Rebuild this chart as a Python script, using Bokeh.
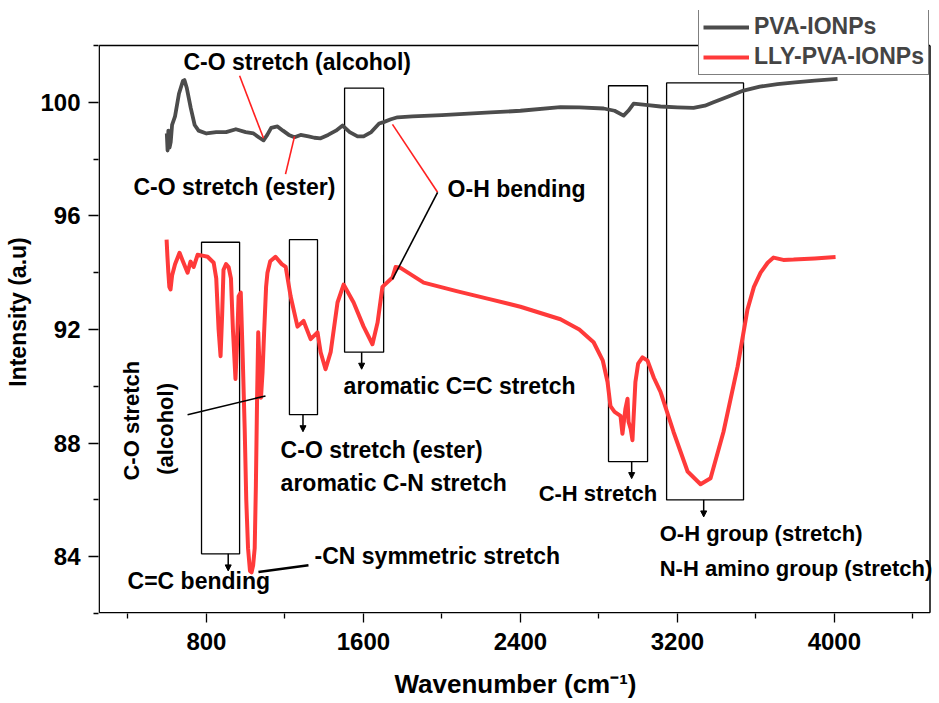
from bokeh.plotting import figure
from bokeh.models import Legend, LegendItem, Range1d, Arrow, NormalHead, FixedTicker
from bokeh.core.properties import value
from bokeh.embed import file_html
from bokeh.resources import INLINE
import numpy as np

# ---------------- data ----------------
pva_x = [598, 602, 606, 612, 618, 625, 640, 660, 680, 688, 700, 720, 740, 760, 800, 850, 900, 950,
         1000, 1040, 1070, 1091, 1110, 1130, 1162, 1190, 1220, 1249, 1280, 1320, 1350, 1382, 1420,
         1460, 1494, 1530, 1570, 1601, 1640, 1680, 1703, 1740, 1774, 1850, 2000, 2248, 2400, 2604,
         2700, 2824, 2880, 2926, 2950, 2977, 3050, 3114, 3200, 3282, 3340, 3384, 3460, 3537, 3620,
         3710, 3800, 3900, 4016]
pva_y = [98.9, 98.3, 99.0, 98.4, 98.6, 99.2, 99.5, 100.3, 100.75, 100.78, 100.5, 99.8, 99.2, 99.0,
         98.9, 98.95, 98.95, 99.05, 98.95, 98.9, 98.75, 98.66, 98.85, 99.1, 99.15, 99.0, 98.85,
         98.77, 98.85, 98.8, 98.75, 98.73, 98.85, 99.0, 99.18, 98.95, 98.8, 98.8, 98.95, 99.25,
         99.3, 99.4, 99.47, 99.5, 99.55, 99.64, 99.7, 99.83, 99.82, 99.78, 99.7, 99.53, 99.7,
         99.95, 99.9, 99.85, 99.82, 99.8, 99.88, 100.0, 100.2, 100.41, 100.55, 100.64, 100.7,
         100.76, 100.82]

lly_x = [597, 601, 606, 611, 617, 625, 640, 663, 680, 704, 719, 735, 755, 780, 806, 837, 850, 862,
         872, 880, 887, 900, 913, 925, 935, 948, 956, 964, 975, 985, 995, 1003, 1012, 1022, 1030,
         1038, 1046, 1052, 1058, 1064, 1070, 1078, 1086, 1094, 1104, 1111, 1125, 1152, 1184, 1204,
         1229, 1264, 1295, 1331, 1366, 1382, 1407, 1433, 1468, 1499, 1550, 1601, 1646, 1672, 1697,
         1748, 1764, 1789, 1907, 2080, 2248, 2400, 2604, 2700, 2773, 2820, 2844, 2859, 2880, 2910,
         2920, 2935, 2946, 2951, 2962, 2971, 2986, 3000, 3022, 3048, 3080, 3114, 3180, 3252, 3318,
         3369, 3435, 3507, 3557, 3590, 3624, 3660, 3690, 3740, 3792, 3900, 4006]
lly_y = [95.16, 94.6, 94.0, 93.5, 93.41, 93.9, 94.3, 94.7, 94.4, 94.0, 94.39, 94.2, 94.63, 94.6,
         94.56, 94.35, 93.8, 92.0, 91.06, 92.5, 94.1, 94.3, 94.2, 93.8, 92.0, 90.26, 91.5, 93.17,
         93.3, 91.0, 88.5, 86.0, 84.3, 83.5, 83.45, 83.7, 84.3, 86.5, 89.5, 91.9, 90.8, 89.6, 90.5,
         91.9, 93.5, 94.0, 94.4, 94.56, 94.3, 94.2, 93.17, 92.1, 92.3, 91.66, 91.9, 91.2, 90.6,
         91.2, 92.95, 93.58, 92.95, 92.1, 91.48, 92.24, 93.5, 93.83, 94.2, 94.17, 93.65, 93.34,
         93.06, 92.8, 92.36, 92.0, 91.55, 90.9, 90.15, 89.3, 89.1, 88.96, 88.33, 89.2, 89.56,
         88.75, 88.5, 88.1, 90.15, 90.8, 91.02, 90.9, 90.3, 89.8, 88.4, 87.0, 86.55, 86.76, 88.4,
         90.7, 92.7, 93.5, 94.0, 94.35, 94.53, 94.45, 94.46, 94.5, 94.55]

series_names = ["PVA-IONPs", "LLY-PVA-IONPs"]

# boxes around band regions (wavenumber / intensity units)
box_left = [775, 1223, 1504, 2849, 3145]
box_right = [969, 1366, 1703, 3048, 3537]
box_bottom = [84.1, 89.0, 91.2, 87.35, 86.0]
box_top = [95.07, 95.16, 100.5, 100.58, 100.68]
arrow_x = [911, 1292, 1591, 2967, 3334]

# band assignment labels
lab_text = ["C-O stretch (alcohol)", "C-O stretch (ester)", "O-H bending", "aromatic C=C stretch",
            "C-O stretch (ester)", "aromatic C-N stretch", "C=C bending", "-CN symmetric stretch"]
lab_x = [683, 428, 2029, 1499, 1178, 1178, 398, 1351]
lab_y = [101.4, 97.0, 96.95, 90.0, 87.74, 86.6, 83.16, 84.04]

lab2_text = ["C-H stretch", "O-H group (stretch)", "N-H amino group (stretch)"]
lab2_x = [2493, 3110, 3110]
lab2_y = [86.22, 84.8, 83.6]

rot_text = ["C-O stretch", "(alcohol)"]
rot_x = [418, 590]
rot_y = [88.79, 88.5]

# callout lines
red_x0 = [969, 1249, 1748]
red_y0 = [100.93, 98.8, 99.22]
red_x1 = [1091, 1203, 1978]
red_y1 = [98.73, 97.47, 96.83]
blk_x0 = [1978, 704]
blk_y0 = [96.83, 89.0]
blk_x1 = [1748, 1101]
blk_y1 = [93.76, 89.66]
cn_x0, cn_y0, cn_x1, cn_y1 = [1065], [83.46], [1320], [83.7]

x_ticks = [800, 1600, 2400, 3200, 4000]
x_minor = [400, 1200, 2000, 2800, 3600, 4400]
y_ticks = [84, 88, 92, 96, 100]
y_minor = [82, 86, 90, 94, 98, 102]

# axes box limits (data units)
x_lo, x_hi = 250, 4500
y_lo, y_hi = 82, 102

# ---------------- plot ----------------
FONT = "Liberation Sans"
GRAY = "#4c4c4c"
RED = "#ff3a3a"

Y_END = 103.23
px_per_x = 834 / (x_hi - x_lo)
px_per_y = 602.7 / (Y_END - y_lo)

p = figure(width=939, height=703, output_backend="svg", toolbar_location=None,
           x_range=Range1d(x_lo, x_hi), y_range=Range1d(y_lo, Y_END),
           min_border_left=98, min_border_right=7, min_border_top=10, min_border_bottom=90)
p.grid.visible = False
p.outline_line_color = None
p.background_fill_color = "white"
p.border_fill_color = "white"

for ax, ticks, minor in ((p.xaxis[0], x_ticks, x_minor), (p.yaxis[0], y_ticks, y_minor)):
    ax.ticker = FixedTicker(ticks=ticks, minor_ticks=minor)
    ax.major_label_text_font = FONT
    ax.major_label_text_font_style = "bold"
    ax.major_label_text_font_size = "24px"
    ax.major_label_text_color = "black"
    ax.axis_label_text_font = FONT
    ax.axis_label_text_font_style = "bold"
    ax.axis_label_text_color = "black"
    ax.axis_line_color = None
    ax.major_tick_line_color = "black"
    ax.minor_tick_line_color = "black"
    ax.major_tick_line_width = 1.3
    ax.minor_tick_line_width = 1.3
    ax.major_tick_in = 0
    ax.minor_tick_in = 0

p.xaxis.major_tick_out = 9
p.xaxis.minor_tick_out = 5
p.yaxis.major_tick_out = 10
p.yaxis.minor_tick_out = 5
p.xaxis.major_label_standoff = 10
p.yaxis.major_label_standoff = 8
p.xaxis.axis_label = "Wavenumber (cm\u207b\u00b9)"
p.yaxis.axis_label = "Intensity (a.u)"
p.xaxis.axis_label_text_font_size = "26px"
p.yaxis.axis_label_text_font_size = "23px"
p.xaxis.axis_label_standoff = 16
p.xaxis.axis_label_text_line_height = 1.0
p.yaxis.axis_label_standoff = 6

# axes box (drawn as lines so the legend may overlap its top edge)
xl = x_lo + 0.7 / px_per_x
xr = x_hi - 2.5 / px_per_x
yb = y_lo + 0.7 / px_per_y
p.segment(x0=[xl, xl, xl, xr], y0=[yb, y_hi, yb, yb],
          x1=[xl, xr, xr, xr], y1=[y_hi, y_hi, yb, y_hi],
          line_color="black", line_width=1.5)

# boxes
p.quad(left=box_left, right=box_right, bottom=box_bottom, top=box_top,
       fill_alpha=0, line_color="black", line_width=1.3)

# curves
r_pva = p.line(pva_x, pva_y, line_color=GRAY, line_width=3.8, line_join="round")
r_lly = p.line(lly_x, lly_y, line_color=RED, line_width=4, line_join="round")

# arrows below boxes
for ax_, ybot in zip(arrow_x, box_bottom):
    p.add_layout(Arrow(x_start=ax_, y_start=ybot, x_end=ax_, y_end=ybot - 0.6,
                       line_color="black", line_width=1.5,
                       end=NormalHead(size=6, fill_color="black", line_color="black")))

# callout lines
p.segment(red_x0, red_y0, red_x1, red_y1, line_color="#ff2020", line_width=1.6)
p.segment(blk_x0, blk_y0, blk_x1, blk_y1, line_color="black", line_width=1.6)
p.segment(cn_x0, cn_y0, cn_x1, cn_y1, line_color="black", line_width=2.6)

# labels
p.text(x=lab_x, y=lab_y, text=lab_text, text_font=value(FONT), text_font_style="bold",
       text_font_size="23px", text_align="left", text_baseline="middle", text_color="black")
p.text(x=lab2_x, y=lab2_y, text=lab2_text, text_font=value(FONT), text_font_style="bold",
       text_font_size="22px", text_align="left", text_baseline="middle", text_color="black")
p.text(x=rot_x, y=rot_y, text=rot_text, angle=np.pi / 2, text_font=value(FONT),
       text_font_style="bold", text_font_size="22px", text_align="center",
       text_baseline="middle", text_color="black")

legend = Legend(items=[LegendItem(label=series_names[0], renderers=[r_pva]),
                       LegendItem(label=series_names[1], renderers=[r_lly])],
                location=(600, 538))
legend.label_text_font = FONT
legend.label_text_font_style = "bold"
legend.label_text_font_size = "23px"
legend.label_height = 26
legend.glyph_height = 26
legend.glyph_width = 46
legend.label_standoff = 5
legend.padding = 4
legend.spacing = 3
legend.margin = 0
legend.border_line_color = "black"
legend.border_line_width = 1.3
legend.background_fill_alpha = 1
p.add_layout(legend)

open("out.html", "w").write(file_html(p, INLINE))
